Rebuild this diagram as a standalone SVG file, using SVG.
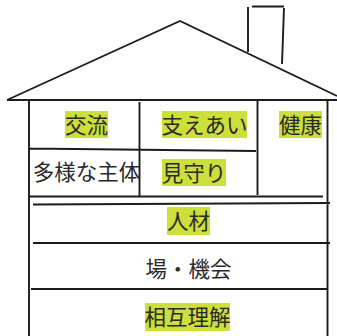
<svg xmlns="http://www.w3.org/2000/svg" width="337" height="336" viewBox="0 0 337 336">
<style>
.l{fill:none;stroke:#1c1c1c;stroke-width:1.9}
.h{fill:#ccdf3a}
text{font-family:"Noto Sans CJK JP","Noto Sans",sans-serif;font-size:21.500px;fill:#2a2a2a;text-anchor:middle}
</style>
<rect width="337" height="336" fill="#fff"/>
<g id="house">
<path class="l" d="M7 100L180 21L337 96M7 100H337M248 7V52M252 6.500H284M284 8L282 64"/>
<path class="l" d="M29 101V336M327.500 101V336M139.500 102V196M257.500 101V195M29 148.500L256 151M29 196.500H323M33 204.500L330 203M33 243H330M31 289H327"/>
</g>
<g id="n1"><rect class="h" x="65" y="111" width="43" height="27"/><text x="86.500" y="132.500">交流</text></g>
<g id="n2"><rect class="h" x="162" y="111" width="85" height="27"/><text x="204.500" y="132.500">支えあい</text></g>
<g id="n3"><rect class="h" x="279" y="111" width="43" height="27"/><text x="300.500" y="132.500">健康</text></g>
<g id="n4"><text x="86.500" y="180">多様な主体</text></g>
<g id="n5"><rect class="h" x="162" y="159" width="64" height="27"/><text x="194" y="180.500">見守り</text></g>
<g id="n6"><rect class="h" x="167" y="207" width="43" height="28"/><text x="188.500" y="229">人材</text></g>
<g id="n7"><text x="188.500" y="277">場・機会</text></g>
<g id="n8"><rect class="h" x="145" y="303" width="85" height="28"/><text x="187.500" y="325">相互理解</text></g>
</svg>
